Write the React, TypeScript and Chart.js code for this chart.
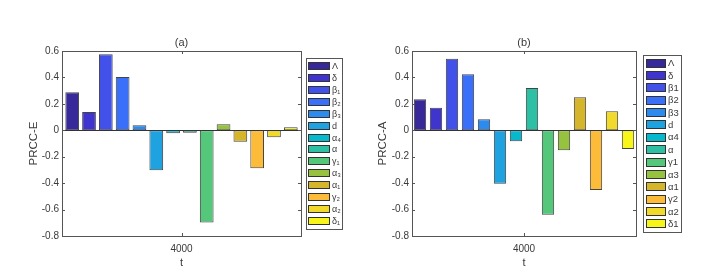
import React, { useEffect, useRef } from 'react';
import { Chart, registerables } from 'chart.js';

Chart.register(...registerables);

// ---------- data ----------
const categories = ['4000'];
const legendLabelsE = ['Λ', 'δ', 'β₁', 'β₂', 'β₃', 'd', 'α₄', 'α', 'γ₁', 'α₃', 'α₁', 'γ₂', 'α₂', 'δ₁'];
const legendLabelsA = ['Λ', 'δ', 'β1', 'β2', 'β3', 'd', 'α4', 'α', 'γ1', 'α3', 'α1', 'γ2', 'α2', 'δ1'];
const valuesE = [0.288, 0.139, 0.576, 0.404, 0.038, -0.303, -0.023, -0.018, -0.697, 0.045, -0.086, -0.288, -0.053, 0.023];
const valuesA = [0.235, 0.171, 0.542, 0.424, 0.083, -0.404, -0.083, 0.32, -0.639, -0.152, 0.25, -0.452, 0.144, -0.142];
const barColors = [
  '#38299a', '#4034cf', '#4151e9', '#3a6ffa', '#2d8bf0', '#1ea3e0', '#08b8cc',
  '#2ec0a4', '#55c77a', '#96c23f', '#d4b52c', '#fdbb3a', '#f2da2c', '#f7f51a',
];
const yMin = -0.8;
const yMax = 0.6;
const yStep = 0.2;

const FONT = '"Liberation Sans", Arial, Helvetica, sans-serif';
const AXIS_COLOR = '#555555';
const TEXT_COLOR = '#3a3a3a';

type Geo = {
  left: number;
  yScaleWidth: number;
  yTitlePad: number;
  padRight: number;
  catPct: number;
  barPct: number;
  legend: { x: number; y: number; w: number; h: number; swX: number; swW: number; swH: number; fontSize: number };
};

function makePlugin(title: string, geo: Geo) {
  return {
    id: 'matlabStyle',
    afterDatasetsDraw(chart: any) {
      const { ctx, chartArea } = chart;
      const ys = chart.scales.y;
      const xs = chart.scales.x;
      const { left, right, top, bottom } = chartArea;
      ctx.save();
      // baseline at zero
      const y0 = Math.round(ys.getPixelForValue(0)) + 0.5;
      ctx.strokeStyle = '#333333';
      ctx.lineWidth = 1;
      ctx.beginPath();
      ctx.moveTo(left, y0);
      ctx.lineTo(right, y0);
      ctx.stroke();
      // frame
      ctx.strokeStyle = AXIS_COLOR;
      ctx.strokeRect(Math.round(left) + 0.5, Math.round(top) + 0.5, Math.round(right - left), Math.round(bottom - top));
      // inward ticks
      ys.ticks.forEach((t: any) => {
        const py = Math.round(ys.getPixelForValue(t.value)) + 0.5;
        ctx.beginPath();
        ctx.moveTo(left, py);
        ctx.lineTo(left + 3, py);
        ctx.moveTo(right, py);
        ctx.lineTo(right - 3, py);
        ctx.stroke();
      });
      const px = Math.round(xs.getPixelForTick(0)) + 0.5;
      ctx.beginPath();
      ctx.moveTo(px, bottom);
      ctx.lineTo(px, bottom - 3);
      ctx.moveTo(px, top);
      ctx.lineTo(px, top + 3);
      ctx.stroke();
      ctx.restore();
    },
    afterDraw(chart: any) {
      const { ctx, chartArea } = chart;
      ctx.save();
      // title
      ctx.fillStyle = TEXT_COLOR;
      ctx.font = `11px ${FONT}`;
      ctx.textAlign = 'center';
      ctx.textBaseline = 'middle';
      ctx.fillText(title, (chartArea.left + chartArea.right) / 2, 43);
      // legend
      const L = geo.legend;
      ctx.fillStyle = '#ffffff';
      ctx.fillRect(L.x, L.y, L.w, L.h);
      ctx.strokeStyle = AXIS_COLOR;
      ctx.lineWidth = 1;
      ctx.strokeRect(L.x + 0.5, L.y + 0.5, L.w, L.h);
      const ds = chart.data.datasets;
      const n = ds.length;
      const padY = 2;
      const pitch = (L.h - 2 * padY) / n;
      ctx.font = `${L.fontSize}px ${FONT}`;
      ctx.textAlign = 'left';
      ctx.textBaseline = 'middle';
      ds.forEach((d: any, i: number) => {
        const cy = L.y + padY + pitch * (i + 0.5);
        const sy = Math.round(cy - L.swH / 2);
        ctx.fillStyle = d.backgroundColor;
        ctx.fillRect(L.swX, sy, L.swW, L.swH);
        ctx.strokeStyle = '#333333';
        ctx.strokeRect(L.swX + 0.5, sy + 0.5, L.swW - 1, L.swH - 1);
        ctx.fillStyle = TEXT_COLOR;
        ctx.fillText(d.label, L.swX + L.swW + 2, cy + 0.5);
      });
      ctx.restore();
    },
  };
}

function PrccChart(props: { title: string; yLabel: string; values: number[]; labels: string[]; geo: Geo }) {
  const ref = useRef<HTMLCanvasElement | null>(null);
  useEffect(() => {
    if (!ref.current) return;
    const { geo } = props;
    const chart = new Chart(ref.current, {
      type: 'bar',
      data: {
        labels: categories,
        datasets: props.labels.map((lab, i) => ({
          label: lab,
          data: [props.values[i]],
          backgroundColor: barColors[i],
          borderColor: 'rgba(35,35,35,0.85)',
          borderWidth: 1,
          borderSkipped: false,
          categoryPercentage: geo.catPct,
          barPercentage: geo.barPct,
        })),
      },
      options: {
        responsive: false,
        animation: false,
        layout: { padding: { left: 0, top: 51, right: geo.padRight, bottom: 0 } },
        plugins: { legend: { display: false }, title: { display: false }, tooltip: { enabled: false } },
        scales: {
          x: {
            grid: { display: false, drawTicks: false },
            border: { display: false },
            ticks: { color: TEXT_COLOR, font: { family: FONT, size: 10 }, padding: 7 },
            title: { display: true, text: 't', color: TEXT_COLOR, font: { family: FONT, size: 11 }, padding: { top: 0, bottom: 9 } },
            afterFit: (s: any) => { s.height = 43; },
          },
          y: {
            min: yMin,
            max: yMax,
            grid: { display: false, drawTicks: false },
            border: { display: false },
            ticks: {
              stepSize: yStep,
              color: TEXT_COLOR,
              font: { family: FONT, size: 10 },
              padding: 3,
              callback: (v: any) => String(Number(Number(v).toFixed(1))),
            },
            title: { display: true, text: props.yLabel, color: TEXT_COLOR, font: { family: FONT, size: 11.5 }, padding: { top: geo.yTitlePad, bottom: 0 } },
            afterFit: (s: any) => { s.width = geo.yScaleWidth; },
          },
        },
      },
      plugins: [makePlugin(props.title, geo)],
    } as any);
    return () => chart.destroy();
  }, []);
  return (
    <canvas
      ref={ref}
      width={356}
      height={279}
      style={{ position: 'absolute', left: props.geo.left, top: 0, width: 356, height: 279 }}
    />
  );
}

const geoE: Geo = {
  left: 0,
  yScaleWidth: 62,
  yTitlePad: 27,
  padRight: 55,
  catPct: 0.985,
  barPct: 0.816,
  legend: { x: 306, y: 58, w: 36, h: 171, swX: 308, swW: 22, swH: 8, fontSize: 9 },
};
const geoA: Geo = {
  left: 356,
  yScaleWidth: 56,
  yTitlePad: 20,
  padRight: 76,
  catPct: 1.0,
  barPct: 0.77,
  legend: { x: 287, y: 55, w: 38, h: 177, swX: 290, swW: 20, swH: 9, fontSize: 9.5 },
};

export default function App() {
  return (
    <div style={{ position: 'fixed', left: 0, top: 0, width: 712, height: 279, background: '#ffffff' }}>
      <PrccChart title="(a)" yLabel="PRCC-E" values={valuesE} labels={legendLabelsE} geo={geoE} />
      <PrccChart title="(b)" yLabel="PRCC-A" values={valuesA} labels={legendLabelsA} geo={geoA} />
    </div>
  );
}
